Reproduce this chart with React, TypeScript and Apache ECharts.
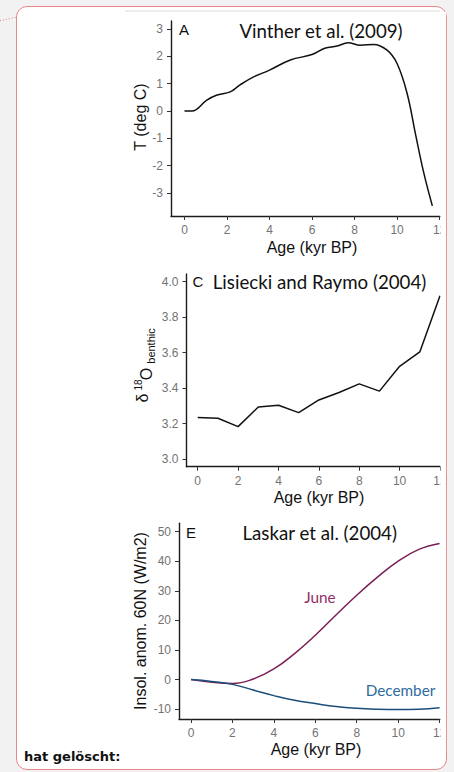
import React, { useEffect, useRef } from "react";
import * as echarts from "echarts";

// Panel A: Vinther et al. (2009)
const tempAge = [0, 0.35, 1.05, 1.5, 2.15, 2.6, 3.25, 4.0, 4.98, 6.0, 6.6, 7.17, 7.7, 8.27, 8.9, 9.53, 10.0, 10.47, 10.86, 11.26, 11.66];
const tempValues = [0, 0, 0.4, 0.58, 0.7, 0.95, 1.25, 1.5, 1.87, 2.07, 2.3, 2.38, 2.5, 2.41, 2.44, 2.23, 1.74, 0.65, -0.82, -2.28, -3.48];

// Panel C: Lisiecki and Raymo (2004)
const d18oAge = [0, 1, 2, 3, 4, 5, 6, 7, 8, 9, 10, 11, 12];
const d18oValues = [3.234, 3.23, 3.183, 3.293, 3.303, 3.262, 3.333, 3.375, 3.424, 3.383, 3.523, 3.604, 3.92];

// Panel E: Laskar et al. (2004)
const insolAge = [0, 1, 2, 3, 4, 5, 6, 7, 8, 9, 10, 11, 12];
const juneValues = [0, -0.9, -1.3, 0.2, 3.6, 8.8, 15, 21.8, 28.5, 34.6, 40, 44, 46];
const decemberValues = [0, -0.6, -1.6, -3.5, -5.4, -7.0, -8.1, -9.1, -9.7, -10.0, -10.1, -10.0, -9.5];

// Tick labels
const ageTicks = [0, 2, 4, 6, 8, 10, 12];
const tempTicks = [-3, -2, -1, 0, 1, 2, 3];
const d18oTicks = [3.0, 3.2, 3.4, 3.6, 3.8, 4.0];
const insolTicks = [-10, 0, 10, 20, 30, 40, 50];

const TICK_FONT = "Liberation Sans, Arial, sans-serif";
const TICK_COLOR = "#737373";
const AXIS_COLOR = "#1c1c1c";

function pairs(xs: number[], ys: number[]) {
  return xs.map((x, i) => [x, ys[i]]);
}

function makeAxis(gridIndex: number, min: number, max: number, ticks: number[], fmt?: (v: number) => string) {
  return {
    type: "value",
    gridIndex,
    min,
    max,
    splitLine: { show: false },
    axisLine: { show: true, onZero: false, lineStyle: { color: AXIS_COLOR, width: 1.4 } },
    axisTick: { show: true, customValues: ticks, length: 4, lineStyle: { color: "#333", width: 1 } },
    axisLabel: {
      customValues: ticks,
      color: TICK_COLOR,
      fontSize: 12,
      fontFamily: TICK_FONT,
      margin: 8,
      formatter: fmt ? (v: number) => fmt(v) : (v: number) => String(v),
    },
  };
}

function txt(x: number, y: number, text: string, font: string, fill = "#111", align = "center", rotation = 0) {
  return {
    type: "text",
    x,
    y,
    rotation,
    z: 50,
    style: {
      text,
      fill,
      font,
      align,
      textAlign: align,
      verticalAlign: "middle",
      textVerticalAlign: "middle",
    },
  };
}

export default function App() {
  const ref = useRef<HTMLDivElement>(null);

  useEffect(() => {
    if (!ref.current) return;
    const chart = echarts.init(ref.current, null, { renderer: "svg", width: 454, height: 772 });
    const titleFont = "18.7px Lato, sans-serif";
    const axisTitleFont = "16px 'Liberation Sans', Arial, sans-serif";
    const letterFont = "15px 'Liberation Sans', Arial, sans-serif";

    chart.setOption({
      animation: false,
      backgroundColor: "transparent",
      grid: [
        { left: 171, top: 21, width: 269, height: 195, containLabel: false },
        { left: 186.5, top: 274, width: 253.5, height: 192.7, containLabel: false },
        { left: 179, top: 523.3, width: 261, height: 195.7, containLabel: false },
      ],
      xAxis: [
        makeAxis(0, -0.635, 12.02, ageTicks),
        makeAxis(1, -0.555, 12.0, ageTicks),
        makeAxis(2, -0.58, 12.02, ageTicks),
      ],
      yAxis: [
        makeAxis(0, -3.85, 3.3, tempTicks),
        makeAxis(1, 2.957, 4.043, d18oTicks, (v) => v.toFixed(1)),
        makeAxis(2, -13.3, 52.8, insolTicks),
      ],
      series: [
        {
          type: "line",
          xAxisIndex: 0,
          yAxisIndex: 0,
          data: pairs(tempAge, tempValues),
          smooth: 0.4,
          showSymbol: false,
          lineStyle: { color: "#111", width: 1.5 },
        },
        {
          type: "line",
          xAxisIndex: 1,
          yAxisIndex: 1,
          data: pairs(d18oAge, d18oValues),
          showSymbol: false,
          lineStyle: { color: "#111", width: 1.5 },
        },
        {
          type: "line",
          xAxisIndex: 2,
          yAxisIndex: 2,
          data: pairs(insolAge, juneValues),
          smooth: 0.45,
          showSymbol: false,
          lineStyle: { color: "#7b1e55", width: 1.5 },
        },
        {
          type: "line",
          xAxisIndex: 2,
          yAxisIndex: 2,
          data: pairs(insolAge, decemberValues),
          smooth: 0.45,
          showSymbol: false,
          lineStyle: { color: "#1b4e7a", width: 1.5 },
        },
      ],
      graphic: [
        // dotted connector
        {
          type: "line",
          z: 50,
          shape: { x1: 0, y1: 20.7, x2: 16, y2: 17.3 },
          style: { stroke: "#e07a80", lineWidth: 1, lineDash: [1, 2] },
        },
        // top grey edge of the figure
        {
          type: "line",
          z: 50,
          shape: { x1: 125, y1: 11, x2: 440, y2: 11 },
          style: { stroke: "#dcdcdc", lineWidth: 1 },
        },
        // clip strip on the right side
        {
          type: "rect",
          z: 60,
          shape: { x: 440.6, y: 12, width: 5.5, height: 740 },
          style: { fill: "#ffffff" },
        },
        // Panel A
        txt(179, 29, "A", letterFont, "#111", "left"),
        txt(321, 31, "Vinther et al. (2009)", titleFont),
        txt(312, 247, "Age (kyr BP)", axisTitleFont),
        txt(140, 117, "T (deg C)", axisTitleFont, "#111", "center", Math.PI / 2),
        // Panel C
        txt(192.5, 281.5, "C", letterFont, "#111", "left"),
        txt(319.5, 282, "Lisiecki and Raymo (2004)", titleFont),
        txt(319, 497, "Age (kyr BP)", axisTitleFont),
        txt(142, 398, "δ", axisTitleFont, "#111", "center", Math.PI / 2),
        txt(138.5, 385, "18", "10px 'Liberation Sans', Arial, sans-serif", "#111", "center", Math.PI / 2),
        txt(146, 374, "O", axisTitleFont, "#111", "center", Math.PI / 2),
        txt(151, 346, "benthic", "11px 'Liberation Sans', Arial, sans-serif", "#111", "center", Math.PI / 2),
        // Panel E
        txt(186, 532.5, "E", letterFont, "#111", "left"),
        txt(319.7, 533, "Laskar et al. (2004)", titleFont),
        txt(316, 749, "Age (kyr BP)", axisTitleFont),
        txt(140, 621, "Insol. anom. 60N (W/m2)", axisTitleFont, "#111", "center", Math.PI / 2),
        txt(320, 597, "June", "15.3px Lato, sans-serif", "#8e2e63"),
        txt(400.5, 690, "December", "15.3px Lato, sans-serif", "#2f6b9c"),
        // footer
        txt(24, 756, "hat gelöscht:", "bold 13px 'DejaVu Sans', sans-serif", "#111", "left"),
      ],
    });

    return () => chart.dispose();
  }, []);

  return (
    <div style={{ position: "fixed", left: 0, top: 0, width: 454, height: 772, background: "#f2f2f2", overflow: "hidden" }}>
      <div
        style={{
          position: "absolute",
          left: 16,
          top: 6,
          width: 431,
          height: 764,
          boxSizing: "border-box",
          border: "1.5px solid #e8878b",
          borderRadius: 11,
          background: "#ffffff",
        }}
      />
      <div ref={ref} style={{ position: "absolute", left: 0, top: 0, width: 454, height: 772 }} />
    </div>
  );
}
